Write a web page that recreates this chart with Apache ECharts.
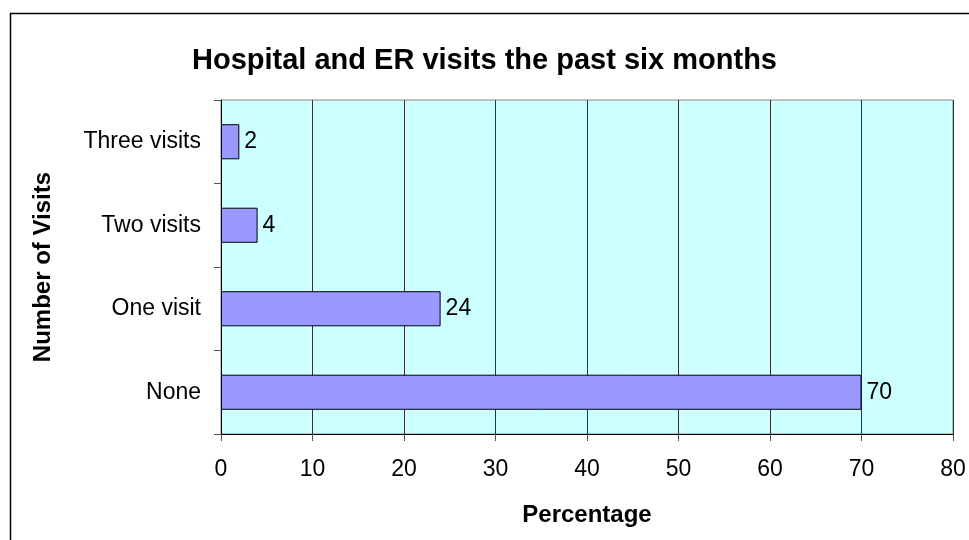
<!DOCTYPE html>
<html>
<head>
<meta charset="utf-8">
<title>Hospital and ER visits</title>
<style>
html, body { margin: 0; padding: 0; background: #fff; }
#chart { width: 969px; height: 540px; }
</style>
<script src="https://cdn.jsdelivr.net/npm/echarts@6/dist/echarts.min.js"></script>
</head>
<body>
<div id="chart"></div>
<script>
// data
var categories = ['None', 'One visit', 'Two visits', 'Three visits'];
var percentages = [70, 24, 4, 2];
var xTicks = [0, 10, 20, 30, 40, 50, 60, 70, 80];

var chart = echarts.init(document.getElementById('chart'));
var font = 'Liberation Sans, Arial, sans-serif';

var option = {
    animation: false,
    backgroundColor: '#fff',
    title: {
        text: 'Hospital and ER visits the past six months',
        left: 'center',
        top: 41,
        textStyle: { fontFamily: font, fontSize: 29, fontWeight: 'bold', color: '#000' }
    },
    graphic: [{
        type: 'rect',
        shape: { x: 10.5, y: 13.5, width: 1000, height: 600 },
        style: { fill: 'none', stroke: '#000', lineWidth: 1.5 },
        silent: true
    }],
    grid: {
        left: 221, right: 16, top: 100, bottom: 106,
        show: true,
        backgroundColor: '#CCFFFF',
        borderColor: '#888',
        borderWidth: 1
    },
    xAxis: {
        type: 'value',
        min: xTicks[0],
        max: xTicks[xTicks.length - 1],
        interval: 10,
        name: 'Percentage',
        nameLocation: 'middle',
        nameGap: 69,
        nameTextStyle: { fontFamily: font, fontSize: 24, fontWeight: 'bold', color: '#000' },
        axisLine: { show: true, lineStyle: { color: '#000', width: 1 } },
        axisTick: { show: true, length: 7, lineStyle: { color: '#555' } },
        axisLabel: { fontFamily: font, fontSize: 23, color: '#000', margin: 24 },
        splitLine: { show: true, lineStyle: { color: '#333', width: 1 } }
    },
    yAxis: {
        type: 'category',
        data: categories,
        name: 'Number of Visits',
        nameLocation: 'middle',
        nameGap: 166,
        nameRotate: 90,
        nameTextStyle: { fontFamily: font, fontSize: 24, fontWeight: 'bold', color: '#000' },
        axisLine: { show: true, lineStyle: { color: '#000', width: 1 } },
        axisTick: { show: true, length: 7, lineStyle: { color: '#555' } },
        axisLabel: { fontFamily: font, fontSize: 23, color: '#000', margin: 20 },
        splitLine: { show: false }
    },
    series: [{
        type: 'bar',
        data: percentages,
        barWidth: '42%',
        itemStyle: { color: '#9999FF', borderColor: '#000', borderWidth: 1 },
        label: {
            show: true,
            position: 'right',
            distance: 5,
            fontFamily: font,
            fontSize: 23,
            color: '#000'
        }
    }]
};
chart.setOption(option);
</script>
</body>
</html>
